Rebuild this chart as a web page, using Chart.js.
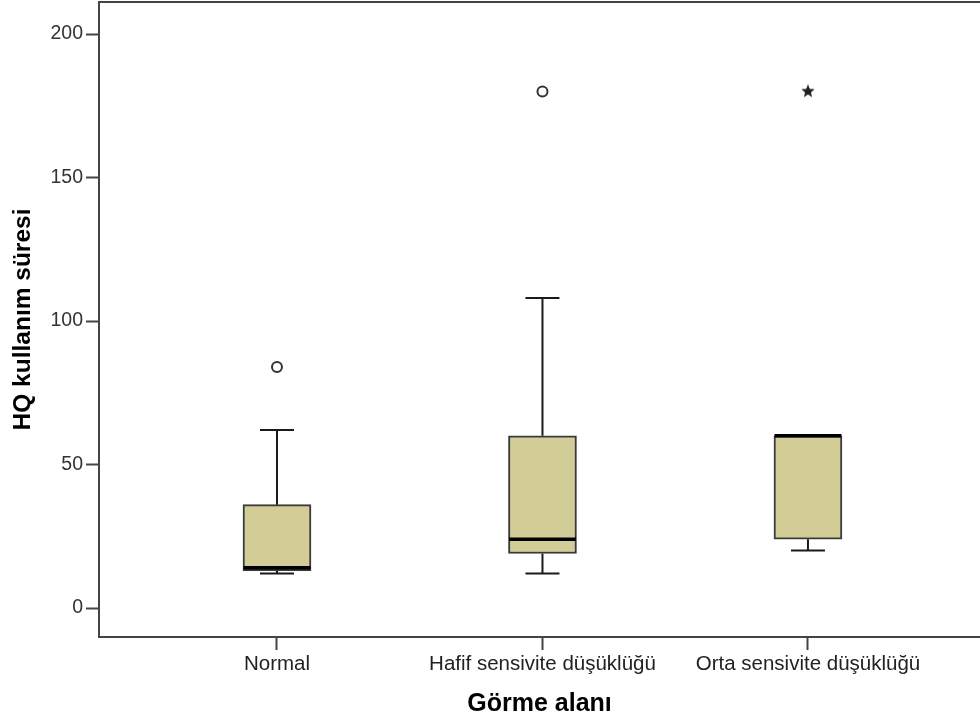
<!DOCTYPE html>
<html>
<head>
<meta charset="utf-8">
<script src="https://cdn.jsdelivr.net/npm/chart.js@4.4.1/dist/chart.umd.min.js"></script>
<style>
  html, body { margin: 0; padding: 0; background: #fff; overflow: hidden; }
  canvas { display: block; }
</style>
</head>
<body>
<canvas id="boxChart" width="980" height="722"></canvas>
<script>
// box plot values
const categories = ['Normal', 'Hafif sensivite düşüklüğü', 'Orta sensivite düşüklüğü'];
const positions = [1, 2, 3];
const whiskerLow = [12, 12, 20];
const q1 = [13, 19, 24];
const median = [14, 24, 60];
const q3 = [36, 60, 60];
const whiskerHigh = [62, 108, 60];
const outliers = [84, 180, null];   // circles
const extremes = [null, null, 180]; // stars
const yTicks = [0, 50, 100, 150, 200];

const FONT = "'Liberation Sans', Arial, sans-serif";
const BOX_HALF = 0.126;  // in x units
const CAP_HALF = 0.064;

const whiskerPoints = [];
const medianPoints = [];
positions.forEach((x, i) => {
    if (whiskerHigh[i] > q3[i]) {
        whiskerPoints.push({ x, y: q3[i] }, { x, y: whiskerHigh[i] }, { x, y: null });
        whiskerPoints.push({ x: x - CAP_HALF, y: whiskerHigh[i] }, { x: x + CAP_HALF, y: whiskerHigh[i] }, { x, y: null });
    }
    if (whiskerLow[i] < q1[i]) {
        whiskerPoints.push({ x, y: q1[i] }, { x, y: whiskerLow[i] }, { x, y: null });
        whiskerPoints.push({ x: x - CAP_HALF, y: whiskerLow[i] }, { x: x + CAP_HALF, y: whiskerLow[i] }, { x, y: null });
    }
    medianPoints.push({ x: x - BOX_HALF, y: median[i] }, { x: x + BOX_HALF, y: median[i] }, { x, y: null });
});

function makeStar(size, color) {
    const c = document.createElement('canvas');
    c.width = c.height = size;
    const g = c.getContext('2d');
    g.fillStyle = color;
    g.beginPath();
    for (let k = 0; k < 10; k++) {
        const r = k % 2 ? size * 0.22 : size * 0.5;
        const a = -Math.PI / 2 + k * Math.PI / 5;
        g.lineTo(size / 2 + r * Math.cos(a), size / 2 + r * Math.sin(a));
    }
    g.closePath();
    g.fill();
    return c;
}

const frameTop = {
    id: 'frameTop',
    afterDraw(chart) {
        const { ctx, chartArea } = chart;
        ctx.save();
        ctx.strokeStyle = '#444';
        ctx.lineWidth = 2;
        ctx.beginPath();
        ctx.moveTo(chartArea.left - 1, chartArea.top);
        ctx.lineTo(chartArea.right, chartArea.top);
        ctx.stroke();
        ctx.restore();
    }
};

new Chart(document.getElementById('boxChart').getContext('2d'), {
    type: 'bar',
    data: {
        datasets: [
            {
                type: 'bar',
                data: positions.map((x, i) => ({ x, y: [q1[i], q3[i]] })),
                backgroundColor: '#d2cd97',
                borderColor: '#3a3a3a',
                borderWidth: 2,
                borderSkipped: false,
                barThickness: 68,
                order: 4
            },
            {
                type: 'line',
                data: whiskerPoints,
                borderColor: '#1a1a1a',
                borderWidth: 2,
                pointRadius: 0,
                spanGaps: false,
                tension: 0,
                order: 3
            },
            {
                type: 'line',
                data: medianPoints,
                borderColor: '#000',
                borderWidth: 3.5,
                pointRadius: 0,
                spanGaps: false,
                tension: 0,
                order: 2
            },
            {
                type: 'scatter',
                data: positions.map((x, i) => ({ x, y: outliers[i] })).filter(p => p.y !== null),
                pointStyle: 'circle',
                pointRadius: 5,
                borderWidth: 2,
                borderColor: '#333',
                backgroundColor: '#fff',
                order: 1
            },
            {
                type: 'scatter',
                data: positions.map((x, i) => ({ x, y: extremes[i] })).filter(p => p.y !== null),
                pointStyle: makeStar(14, '#222'),
                order: 0
            }
        ]
    },
    options: {
        responsive: false,
        animation: false,
        layout: { autoPadding: false, padding: { top: 2, left: 0, right: 0, bottom: 0 } },
        plugins: { legend: { display: false }, tooltip: { enabled: false } },
        scales: {
            x: {
                type: 'linear',
                offset: false,
                min: 0.3296,
                max: 3.648,
                afterBuildTicks: s => { s.ticks = positions.map(v => ({ value: v })); },
                afterFit: s => { s.height = 85; s.paddingLeft = 0; s.paddingRight = 0; },
                grid: { display: true, offset: false, drawOnChartArea: false, drawTicks: true, tickLength: 13, tickColor: '#444', tickWidth: 2 },
                border: { display: true, color: '#444', width: 2 },
                ticks: {
                    padding: 2,
                    color: '#222',
                    font: { family: FONT, size: 20.5 },
                    maxRotation: 0,
                    autoSkip: false,
                    callback: v => categories[positions.indexOf(v)]
                },
                title: {
                    display: true,
                    text: 'Görme alanı',
                    color: '#000',
                    font: { family: FONT, size: 25, weight: 'bold' },
                    padding: { top: 0, bottom: 3 }
                }
            },
            y: {
                min: -10.1,
                max: 211.15,
                afterBuildTicks: s => { s.ticks = yTicks.map(v => ({ value: v })); },
                afterFit: s => { s.width = 99; s.paddingTop = 0; s.paddingBottom = 0; },
                grid: { display: true, drawOnChartArea: false, drawTicks: true, tickLength: 13, tickColor: '#444', tickWidth: 2 },
                border: { display: true, color: '#444', width: 2 },
                ticks: {
                    padding: 3,
                    color: '#333',
                    font: { family: FONT, size: 19.5 }
                },
                title: {
                    display: true,
                    text: 'HQ kullanım süresi',
                    color: '#000',
                    font: { family: FONT, size: 24.5, weight: 'bold' },
                    padding: { top: 9, bottom: 0 }
                }
            }
        }
    },
    plugins: [frameTop]
});
</script>
</body>
</html>
